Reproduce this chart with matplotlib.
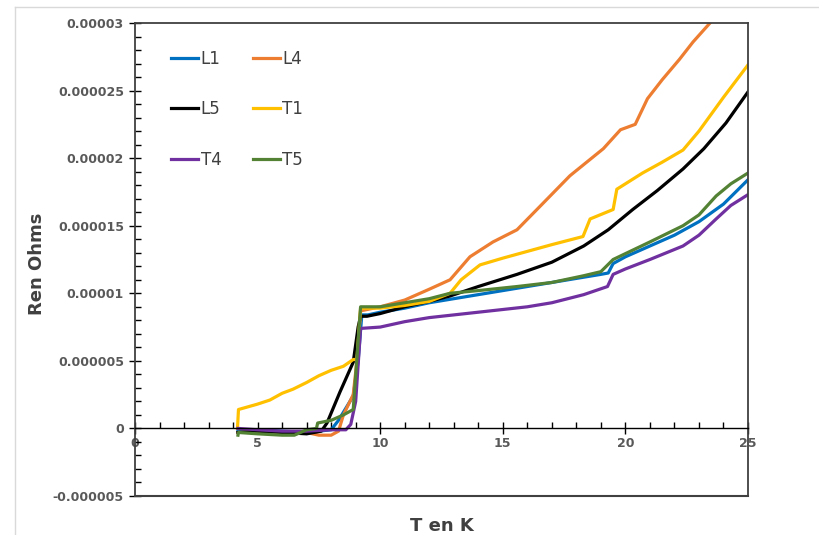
import matplotlib
matplotlib.use("Agg")
import matplotlib.pyplot as plt
from matplotlib.lines import Line2D
from matplotlib.ticker import MultipleLocator, FixedLocator, FixedFormatter

# -----------------------------
# DATA (resistance in micro-ohms)
# -----------------------------
l1_t = [4.2, 5, 6, 7, 7.5, 8.0, 8.3, 8.6, 8.9, 9.1, 9.25, 9.5, 10, 11, 12, 13, 14, 15,
        16, 17, 18, 19, 19.3, 19.5, 20, 21, 22, 23, 24, 25]
l1_r = [-0.2, -0.1, -0.2, -0.3, -0.2, -0.1, 0.6, 1.5, 2.4, 5.0, 8.4, 8.4, 8.6, 8.9, 9.3,
        9.6, 9.9, 10.2, 10.5, 10.8, 11.1, 11.4, 11.5, 12.2, 12.7, 13.5, 14.3, 15.3, 16.6, 18.4]

l4_t = [4.2, 5, 6, 7, 7.5, 8.0, 8.3, 8.5, 8.9, 9.05, 9.2, 10, 11, 12, 12.85, 13.66, 14.6,
        15.58, 16.5, 17.74, 19.1, 19.8, 20.4, 20.9, 21.5, 22.2, 22.76, 23.45, 24.0]
l4_r = [-0.3, -0.2, -0.3, -0.3, -0.5, -0.5, -0.2, 1.0, 2.5, 5.0, 8.7, 9.0, 9.5, 10.3, 11.0,
        12.7, 13.8, 14.7, 16.4, 18.7, 20.7, 22.1, 22.5, 24.4, 25.8, 27.3, 28.6, 30.0, 31.0]

l5_t = [4.2, 5, 6, 7, 7.6, 7.83, 8.36, 8.9, 9.1, 9.2, 9.46, 10, 11, 12, 12.85, 14, 15.58,
        17, 18.3, 19.3, 20.3, 21.3, 22.35, 23.2, 24.1, 25]
l5_r = [-0.3, -0.2, -0.3, -0.4, -0.2, 0.4, 2.7, 4.9, 7.5, 8.3, 8.3, 8.5, 9.0, 9.4, 9.8,
        10.5, 11.4, 12.3, 13.5, 14.7, 16.2, 17.6, 19.2, 20.7, 22.6, 24.9]

t1_t = [4.18, 4.22, 5, 5.5, 6, 6.44, 7, 7.5, 8, 8.5, 8.9, 9.05, 9.2, 10, 11, 12, 12.85,
        13.3, 14.07, 15, 16, 17, 18.27, 18.56, 19.5, 19.65, 20.7, 21.5, 22.35, 23, 24, 25]
t1_r = [0.0, 1.4, 1.8, 2.1, 2.6, 2.9, 3.4, 3.9, 4.3, 4.6, 5.1, 5.1, 8.9, 8.9, 9.1, 9.4,
        10.0, 11.0, 12.1, 12.6, 13.1, 13.6, 14.2, 15.5, 16.2, 17.7, 18.9, 19.7, 20.6, 22.0,
        24.5, 26.9]

t4_t = [4.2, 5, 6, 7, 8, 8.6, 8.8, 9.0, 9.2, 10, 11, 12, 13, 14, 15, 16, 17, 18.3, 19.27,
        19.5, 20, 21, 22.35, 23, 23.7, 24.3, 25]
t4_r = [0.0, -0.1, -0.2, -0.2, -0.1, -0.1, 0.3, 2.0, 7.4, 7.5, 7.9, 8.2, 8.4, 8.6, 8.8,
        9.0, 9.3, 9.9, 10.5, 11.4, 11.8, 12.5, 13.5, 14.3, 15.5, 16.5, 17.3]

t5_t = [4.2, 4.22, 5, 6, 6.5, 7, 7.4, 7.45, 8, 8.5, 8.9, 9.2, 10, 11, 12, 12.85, 14,
        15.58, 17, 18.3, 19.0, 19.5, 21, 22.35, 23, 23.7, 24.3, 25]
t5_r = [-0.5, -0.3, -0.4, -0.5, -0.5, -0.1, 0.0, 0.4, 0.6, 1.0, 1.4, 9.0, 9.0, 9.3, 9.6,
        10.0, 10.2, 10.5, 10.8, 11.3, 11.6, 12.5, 13.8, 15.0, 15.8, 17.2, 18.1, 18.9]

y_ticks = [-0.000005, 0, 0.000005, 0.00001, 0.000015, 0.00002, 0.000025, 0.00003]
y_labels = ["-0.000005", "0", "0.000005", "0.00001", "0.000015", "0.00002",
            "0.000025", "0.00003"]

series = [
    ("L1", l1_t, l1_r, "#0070C0"),
    ("L4", l4_t, l4_r, "#ED7D31"),
    ("L5", l5_t, l5_r, "#000000"),
    ("T1", t1_t, t1_r, "#FFC000"),
    ("T4", t4_t, t4_r, "#7030A0"),
    ("T5", t5_t, t5_r, "#548235"),
]

# -----------------------------
# PLOT
# -----------------------------
fig = plt.figure(figsize=(8.19, 5.35), dpi=100)
ax = fig.add_axes([135 / 819, 1 - 496 / 535, 613 / 819, 473 / 535])

# light grey chart-area border (only top and left are inside the picture)
fig.add_artist(Line2D([15 / 819, 15 / 819], [0, 1 - 7 / 535], transform=fig.transFigure,
                      color="#d9d9d9", lw=1))
fig.add_artist(Line2D([15 / 819, 1], [1 - 7 / 535, 1 - 7 / 535], transform=fig.transFigure,
                      color="#d9d9d9", lw=1))

handles = {}
for name, t, r, c in series:
    line, = ax.plot(t, [v * 1e-6 for v in r], color=c, lw=2.3, label=name)
    handles[name] = line

ax.set_xlim(0, 25)
ax.set_ylim(y_ticks[0], y_ticks[-1])

# x axis crosses at zero, box closed with a line at the bottom
ax.spines["bottom"].set_position(("data", 0))
ax.axhline(y_ticks[0], color="#404040", lw=1.5, clip_on=False)
for s in ["left", "top", "right", "bottom"]:
    ax.spines[s].set_color("#404040")
    ax.spines[s].set_linewidth(1.3)
ax.spines["bottom"].set_color("#000000")
ax.spines["bottom"].set_linewidth(1.0)

ax.xaxis.set_major_locator(MultipleLocator(5))
ax.xaxis.set_minor_locator(MultipleLocator(1))
ax.yaxis.set_major_locator(FixedLocator(y_ticks))
ax.yaxis.set_major_formatter(FixedFormatter(y_labels))
ax.yaxis.set_minor_locator(MultipleLocator(0.000001))

ax.tick_params(axis="x", which="major", direction="inout", length=8, width=1,
               labelsize=9, labelcolor="#595959", pad=2)
ax.tick_params(axis="x", which="minor", direction="in", length=4, width=1)
ax.tick_params(axis="y", which="major", direction="inout", length=8, width=1,
               labelsize=9, labelcolor="#595959", pad=4)
ax.tick_params(axis="y", which="minor", direction="in", length=4, width=1)

for lab in ax.get_xticklabels() + ax.get_yticklabels():
    lab.set_fontweight("bold")

ax.set_ylabel("Ren Ohms", fontsize=13, fontweight="bold", color="#404040")
ax.yaxis.set_label_coords(-0.145, 0.49)
ax.set_xlabel("T en K", fontsize=13, fontweight="bold", color="#404040")
ax.xaxis.set_label_coords(0.5, -0.045)

order = ["L1", "L5", "T4", "L4", "T1", "T5"]
leg = ax.legend([handles[n] for n in order], order, loc="upper left",
                bbox_to_anchor=(0.035, 0.975), ncol=2, frameon=False, fontsize=12,
                labelspacing=1.95, handlelength=1.6, handletextpad=0.15,
                columnspacing=1.9)
for txt in leg.get_texts():
    txt.set_color("#404040")

plt.savefig("out.png", dpi=100)
